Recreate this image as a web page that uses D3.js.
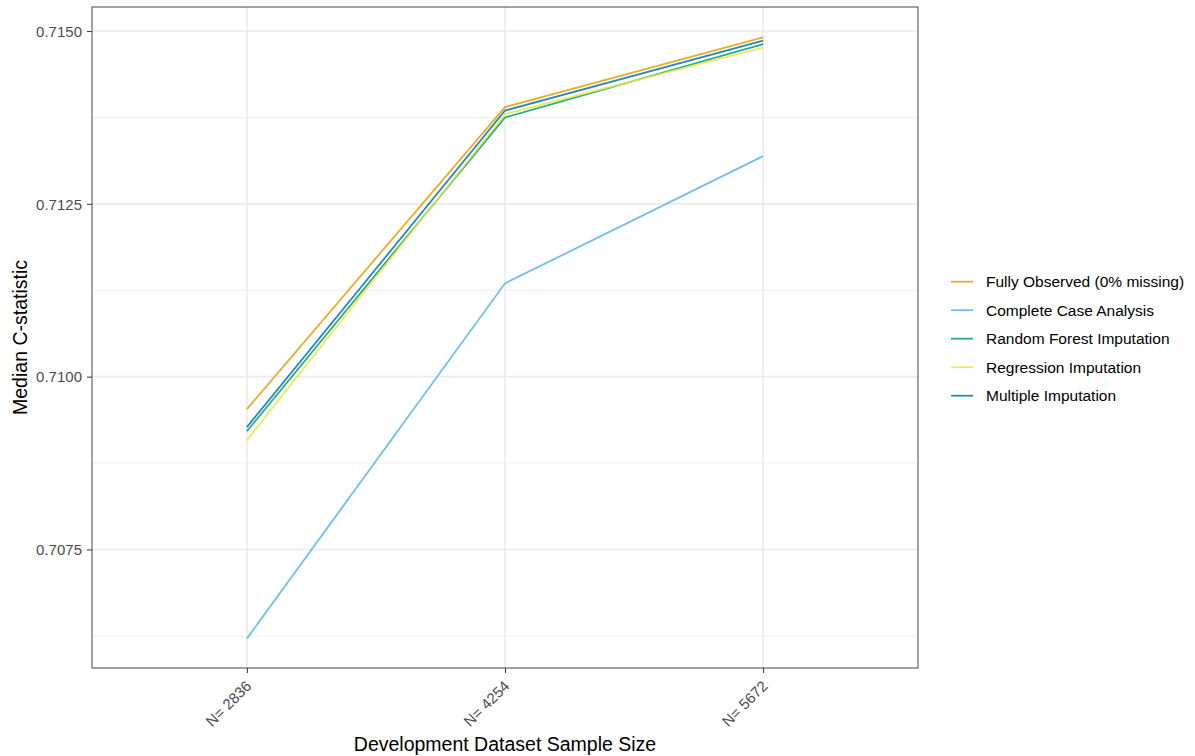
<!DOCTYPE html>
<html><head><meta charset="utf-8">
<script src="https://cdn.jsdelivr.net/npm/d3@7"></script>
<style>body{margin:0;background:#fff;} text{font-family:"Liberation Sans",Arial,sans-serif;}</style>
</head><body>
<svg id="c" width="1195" height="756"></svg>
<script>
const categories = ["N= 2836", "N= 4254", "N= 5672"];
const seriesNames = ["Fully Observed (0% missing)", "Complete Case Analysis", "Random Forest Imputation", "Regression Imputation", "Multiple Imputation"];
const seriesColors = ["#E69F00", "#56B4E9", "#009E73", "#F0E442", "#0072B2"];
const fullyObserved = [0.70953, 0.71390, 0.71491];
const completeCase = [0.70621, 0.71135, 0.71319];
const randomForest = [0.70921, 0.71375, 0.71481];
const regression = [0.70908, 0.71380, 0.71476];
const multipleImp = [0.70927, 0.71385, 0.71486];
const yTicks = [0.7075, 0.7100, 0.7125, 0.7150];
const yMinor = [0.70625, 0.70875, 0.71125, 0.71375];

const series = [fullyObserved, completeCase, randomForest, regression, multipleImp];
const svg = d3.select("#c");
const L = 92, R = 918, T = 7, B = 668;
const x = d3.scalePoint().domain(categories).range([L, R]).padding(0.6);
const y = d3.scaleLinear().domain([0.705785, 0.715348]).range([B, T]);

// grid
const g = svg.append("g");
g.selectAll(".minor").data(yMinor).join("line")
  .attr("x1", L).attr("x2", R).attr("y1", d => y(d)).attr("y2", d => y(d))
  .attr("stroke", "#EBEBEB").attr("stroke-width", 0.8);
g.selectAll(".major").data(yTicks).join("line")
  .attr("x1", L).attr("x2", R).attr("y1", d => y(d)).attr("y2", d => y(d))
  .attr("stroke", "#EBEBEB").attr("stroke-width", 1.6);
g.selectAll(".vmajor").data(categories).join("line")
  .attr("x1", d => x(d)).attr("x2", d => x(d)).attr("y1", T).attr("y2", B)
  .attr("stroke", "#EBEBEB").attr("stroke-width", 1.6);

// lines
const line = d3.line().x((d, i) => x(categories[i])).y(d => y(d));
series.forEach((s, k) => {
  svg.append("path").datum(s).attr("d", line)
    .attr("fill", "none").attr("stroke", seriesColors[k]).attr("stroke-width", 1.8)
    .attr("stroke-opacity", 0.85);
});

// panel border
svg.append("rect").attr("x", L).attr("y", T).attr("width", R - L).attr("height", B - T)
  .attr("fill", "none").attr("stroke", "#333333").attr("stroke-width", 0.9);

// axes
const yAxis = d3.axisLeft(y).tickValues(yTicks).tickFormat(d3.format(".4f")).tickSize(5).tickPadding(5);
const ya = svg.append("g").attr("transform", `translate(${L},0)`).call(yAxis);
ya.select(".domain").remove();
ya.selectAll("line").attr("stroke", "#333333");
ya.selectAll("text").attr("fill", "#4D4D4D").style("font-size", "15px").attr("dy", "0.35em");

const xAxis = d3.axisBottom(x).tickSize(5).tickPadding(3);
const xa = svg.append("g").attr("transform", `translate(0,${B})`).call(xAxis);
xa.select(".domain").remove();
xa.selectAll("line").attr("stroke", "#333333");
xa.selectAll("text").attr("fill", "#4D4D4D").style("font-size", "15px")
  .attr("text-anchor", "end").attr("dy", "0")
  .attr("transform", "translate(5,19) rotate(-45)").attr("y", 0).attr("x", 0);

// titles
svg.append("text").attr("x", (L + R) / 2).attr("y", 751).attr("text-anchor", "middle")
  .style("font-size", "19.5px").attr("fill", "#000").text("Development Dataset Sample Size");
svg.append("text").attr("transform", `translate(27,${(T + B) / 2}) rotate(-90)`).attr("text-anchor", "middle")
  .style("font-size", "19.5px").attr("fill", "#000").text("Median C-statistic");

// legend
const lg = svg.append("g");
seriesNames.forEach((n, i) => {
  const yy = 281.7 + i * 28.5;
  lg.append("line").attr("x1", 951).attr("x2", 973).attr("y1", yy).attr("y2", yy)
    .attr("stroke", seriesColors[i]).attr("stroke-width", 1.8).attr("stroke-opacity", 0.85);
  lg.append("text").attr("x", 986).attr("y", yy).attr("dy", "0.35em")
    .style("font-size", "15.5px").attr("fill", "#000").text(n);
});
</script>
</body></html>
